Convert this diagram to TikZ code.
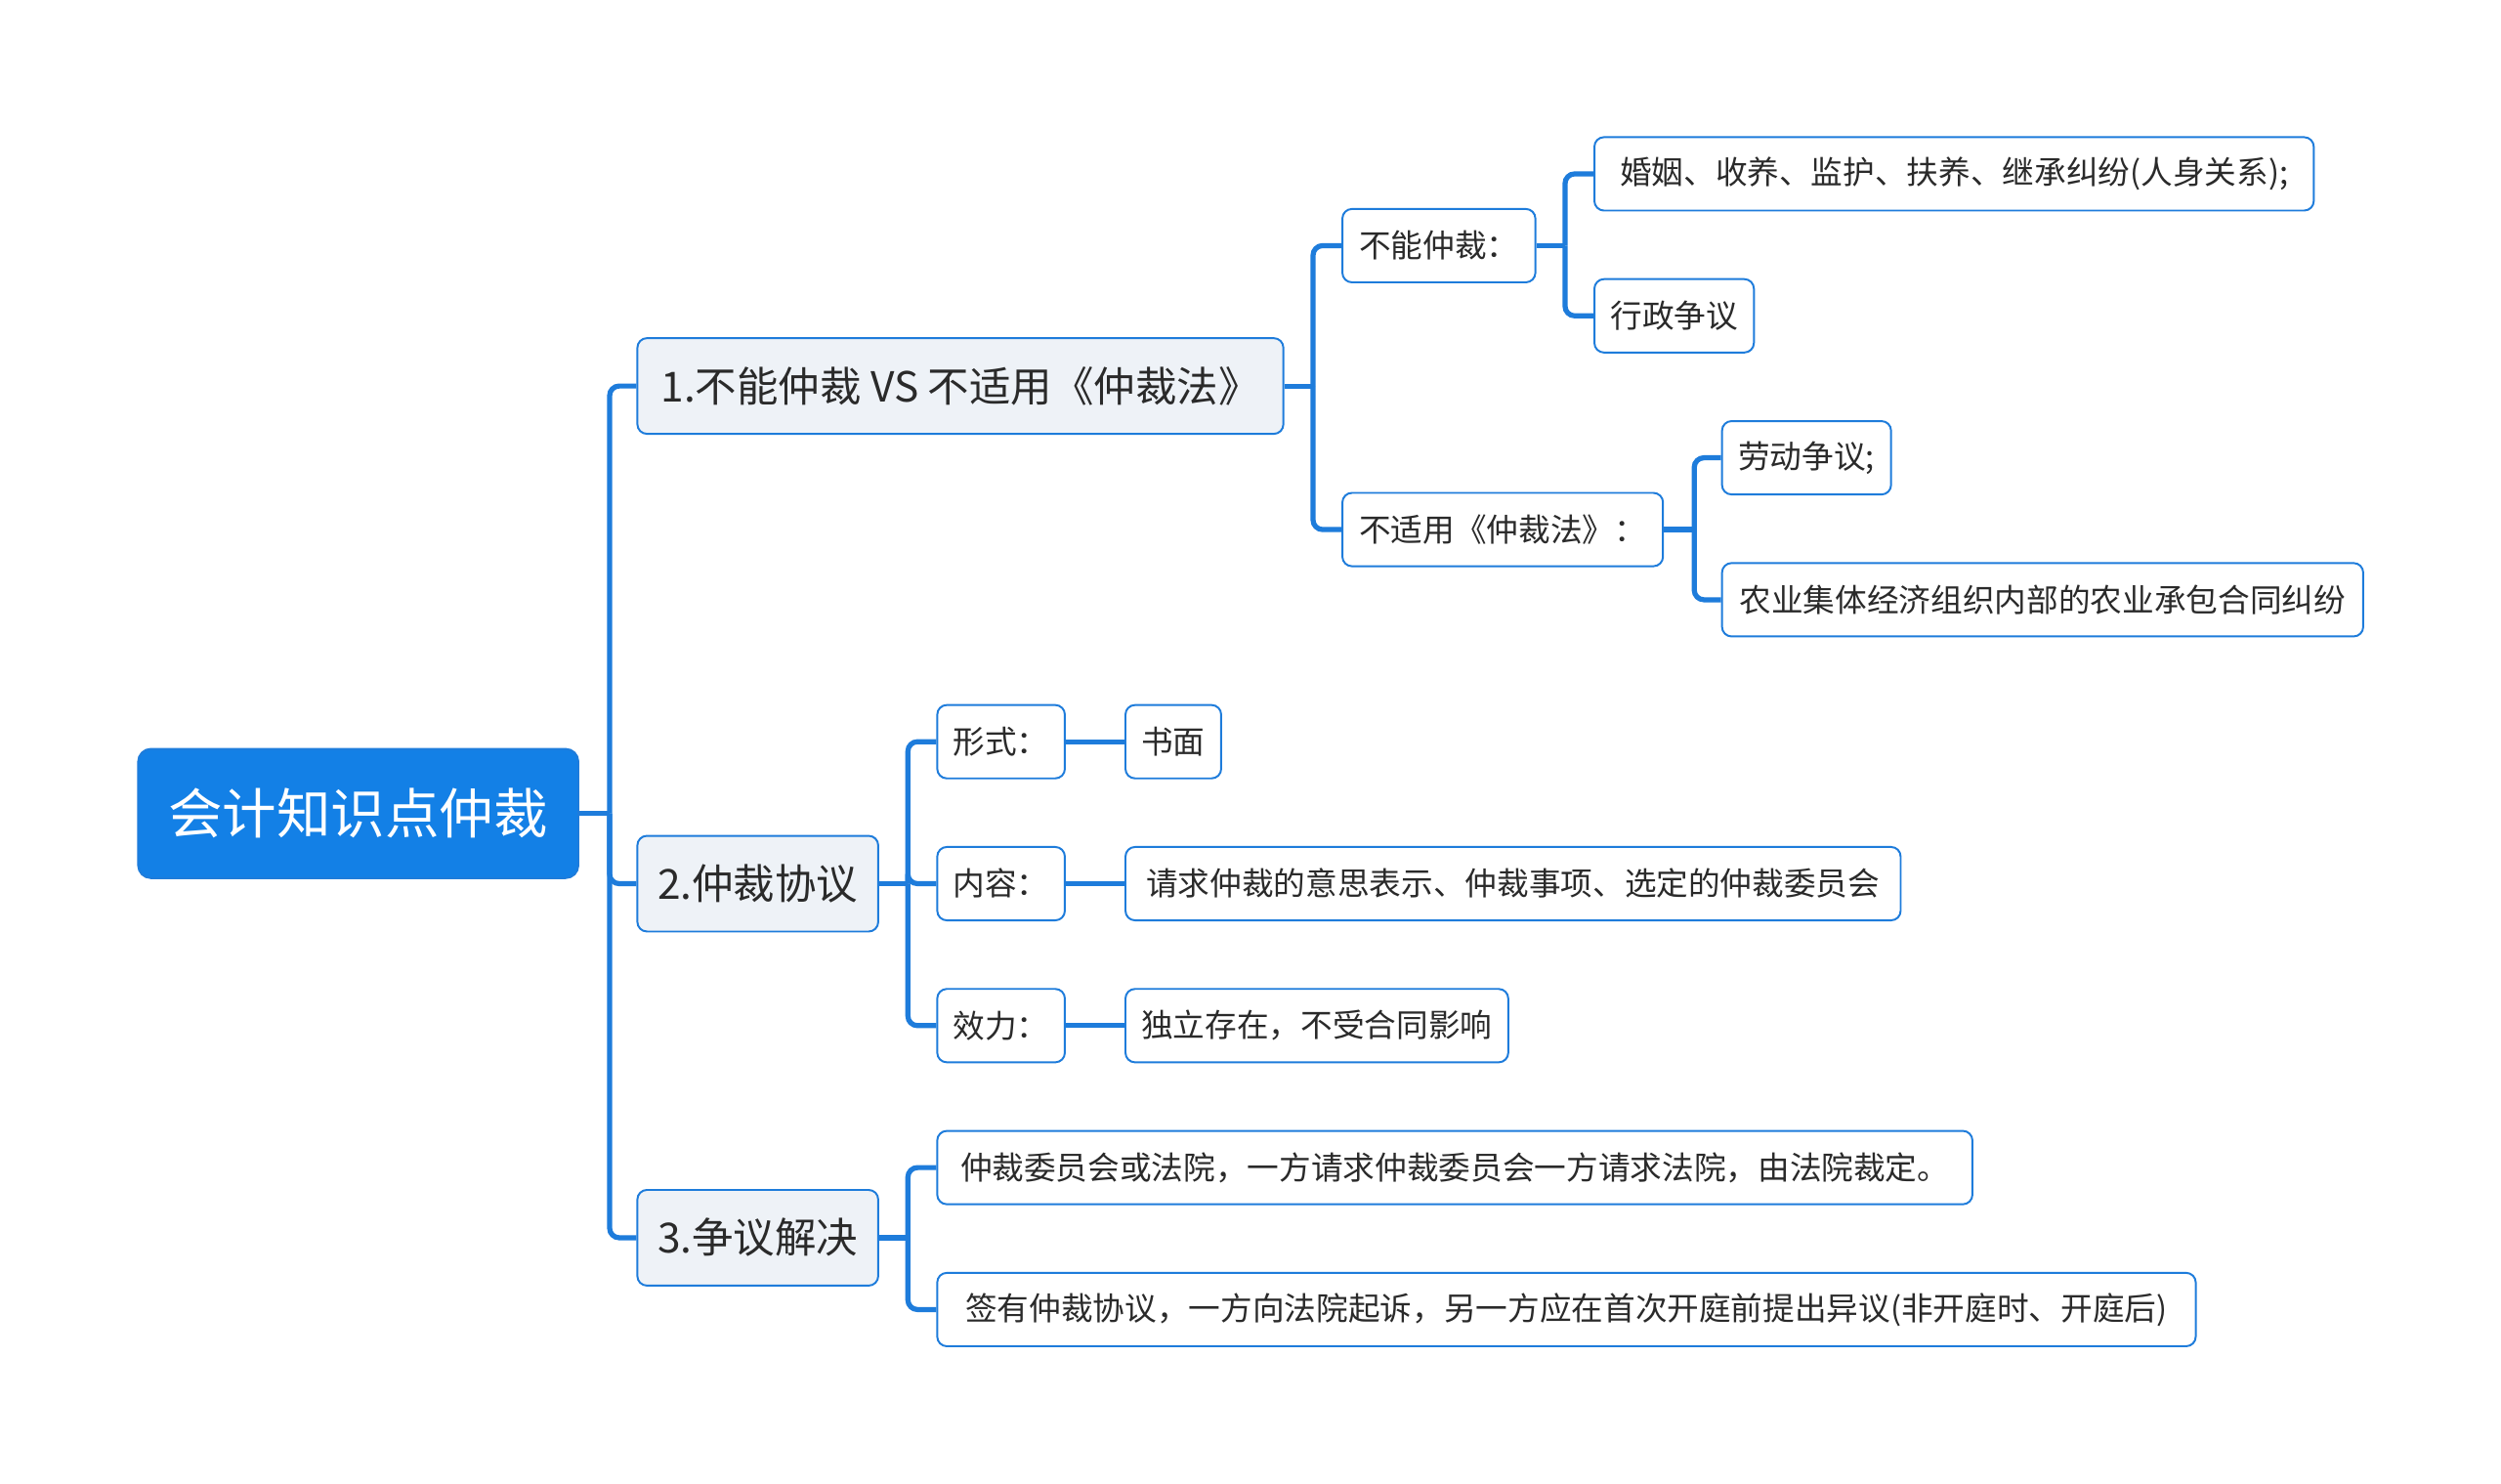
\documentclass[tikz,border=0pt]{standalone}
\usepackage{fontspec}
\setmainfont{Noto Sans CJK SC}
\definecolor{blueline}{HTML}{1E7CDB}
\definecolor{rootfill}{HTML}{1380E6}
\definecolor{lonefill}{HTML}{EEF2F7}
\definecolor{txt}{HTML}{2A2A2A}
\begin{document}
\begin{tikzpicture}[x=1pt,y=-1pt,
 box/.style={draw=blueline, line width=1.2pt, rounded corners=6pt, fill=white, text=txt, anchor=west, inner sep=0pt, minimum height=46pt, font=\fontsize{20}{24}\selectfont},
 lone/.style={box, fill=lonefill, minimum height=60pt, font=\fontsize{26}{30}\selectfont},
 rootbox/.style={box, fill=rootfill, text=white, minimum height=81pt, rounded corners=8pt, font=\fontsize{34}{40}\selectfont},
 conn/.style={draw=blueline, line width=3.2pt},
 fork/.style={conn, rounded corners=6pt}]
\useasboundingbox[fill=white] (0,0) rectangle (1568,930);

\node[rootbox, minimum width=276pt] (root) at (86,510) {会计知识点仲裁};

\node[lone, minimum width=405pt] (n1) at (399,242) {1.不能仲裁 VS 不适用《仲裁法》};
\node[lone, minimum width=151pt] (n2) at (399,554) {2.仲裁协议};
\node[lone, minimum width=151pt] (n3) at (399,776) {3.争议解决};

\node[box, minimum width=121pt] (a1) at (841,154) {不能仲裁：};
\node[box, minimum width=201pt] (a2) at (841,332) {不适用《仲裁法》：};
\node[box, minimum width=451pt] (a11) at (999,109) {婚姻、收养、监护、扶养、继承纠纷(人身关系);};
\node[box, minimum width=100pt] (a12) at (999,198) {行政争议};
\node[box, minimum width=106pt] (a21) at (1079,287) {劳动争议;};
\node[box, minimum width=402pt] (a22) at (1079,376) {农业集体经济组织内部的农业承包合同纠纷};

\node[box, minimum width=80pt] (b1) at (587,465) {形式：};
\node[box, minimum width=60pt] (b11) at (705,465) {书面};
\node[box, minimum width=80pt] (b2) at (587,554) {内容：};
\node[box, minimum width=486pt] (b21) at (705,554) {请求仲裁的意思表示、仲裁事项、选定的仲裁委员会};
\node[box, minimum width=80pt] (b3) at (587,643) {效力：};
\node[box, minimum width=240pt] (b31) at (705,643) {独立存在，不受合同影响};

\node[box, minimum width=649pt] (c1) at (587,732) {仲裁委员会或法院，一方请求仲裁委员会一方请求法院，由法院裁定。};
\node[box, minimum width=789pt] (c2) at (587,821) {签有仲裁协议，一方向法院起诉，另一方应在首次开庭前提出异议(非开庭时、开庭后)};

% root fork
\draw[conn] (root.east) -- ++(19,0) coordinate (jr);
\foreach \c in {n1,n2,n3} \draw[fork] (jr) |- (\c.west);
% n1 fork
\draw[conn] (n1.east) -- ++(18,0) coordinate (j1);
\foreach \c in {a1,a2} \draw[fork] (j1) |- (\c.west);
% a1 fork
\draw[conn] (a1.east) -- ++(18,0) coordinate (ja1);
\foreach \c in {a11,a12} \draw[fork] (ja1) |- (\c.west);
% a2 fork
\draw[conn] (a2.east) -- ++(19,0) coordinate (ja2);
\foreach \c in {a21,a22} \draw[fork] (ja2) |- (\c.west);
% n2 fork
\draw[conn] (n2.east) -- ++(18,0) coordinate (j2);
\foreach \c in {b1,b2,b3} \draw[fork] (j2) |- (\c.west);
\draw[conn] (b1.east) -- (b11.west);
\draw[conn] (b2.east) -- (b21.west);
\draw[conn] (b3.east) -- (b31.west);
% n3 fork
\draw[conn] (n3.east) -- ++(18,0) coordinate (j3);
\foreach \c in {c1,c2} \draw[fork] (j3) |- (\c.west);
\end{tikzpicture}
\end{document}
